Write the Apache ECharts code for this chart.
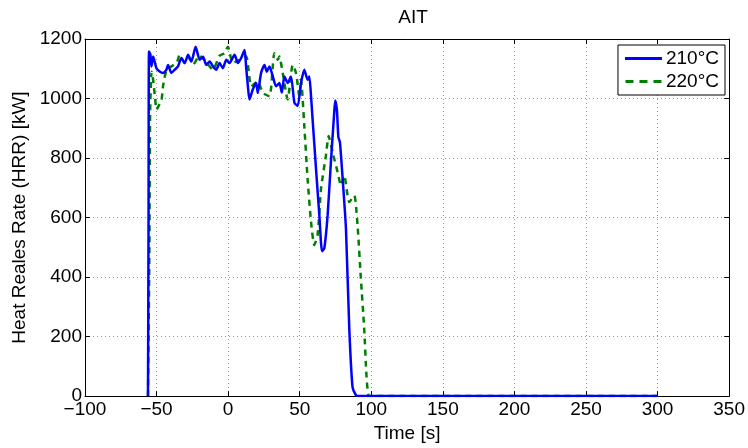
<!DOCTYPE html>
<html>
<head>
<meta charset="utf-8">
<script src="https://cdn.jsdelivr.net/npm/echarts@6/dist/echarts.min.js"></script>
<style>html,body{margin:0;padding:0;background:#fff}#c{width:748px;height:448px}</style>
</head>
<body>
<div id="c"></div>
<script>
// Time [s] and HRR [kW] values
const t210 = [-56,-55.6,-55.3,-54.3,-53.6,-52.4,-50.1,-47.8,-45.5,-43.1,-42,-39.7,-37.3,-35,-32.7,-30.3,-28,-25.7,-22.7,-19.9,-17.5,-15.3,-12.9,-10.6,-8.3,-6,-3.7,-1.3,1,4.5,6.8,9.1,11.5,12.5,13.8,14.9,17.2,19.6,20.7,23,25.4,27,28.9,31.2,33.5,35.8,37.5,39.3,41.6,43.9,46.3,48.6,50.9,53.2,55.5,56.7,57.9,59,61.4,63.7,65.6,67.2,69.5,71.8,74.1,74.8,76,77,78.1,80,82.3,84.6,86.9,89.3,91,300];
const v210 = [0,600,1158,1147,1108,1141,1102,1091,1086,1097,1113,1086,1097,1108,1136,1119,1147,1124,1174,1130,1140,1113,1124,1108,1097,1119,1102,1130,1119,1147,1119,1136,1163,1110,1041,997,1030,1052,1019,1086,1113,1090,1108,1074,1041,1052,1020,1074,1052,1074,986,975,1052,1097,1063,1074,1008,930,763,608,487,497,608,787,953,993,960,870,853,730,563,230,30,3,0,0];
const t220 = [-56,-55,-54.5,-53.5,-52.4,-51,-50,-48,-46.6,-45.5,-43,-39.6,-36,-33.8,-30.3,-26.9,-24.6,-19.9,-15,-10.6,-6,-2.5,-0.2,3.3,8,12.6,16.1,20.7,24.2,28.9,32.3,34.7,35.8,38.1,41.6,45.1,47.4,49.8,50.9,53.2,55.5,57.9,60.2,62.5,64.9,68.3,70.2,73,76.5,78.8,81.1,84.6,88.1,90.4,92.7,95,96.7,98,100,300];
const v220 = [0,500,950,1090,1063,1000,963,980,991,1041,1097,1108,1120,1147,1119,1136,1113,1144,1120,1097,1144,1152,1174,1119,1130,1141,1041,1058,1019,1008,1152,1130,1141,1086,997,1113,1086,1008,1063,908,730,586,508,541,697,808,874,819,752,708,741,652,674,574,397,230,63,3,0,0];
const seriesNames = ['210°C', '220°C'];
const xTicks = {min: -100, max: 350, interval: 50};
const yTicks = {min: 0, max: 1200, interval: 200};

const pairs = (t, v) => t.map((x, i) => [x, v[i]]);
const font = 'Liberation Sans, Arial, sans-serif';
const FS = 19;
const chart = echarts.init(document.getElementById('c'), null, {renderer: 'canvas'});
const axisCommon = () => ({
  axisLine: {show: true, onZero: false, lineStyle: {color: '#000', width: 1}},
  axisTick: {show: true, inside: true, length: 5, lineStyle: {color: '#000'}},
});
const grid = {show: true, lineStyle: {color: '#999', type: [1, 3], width: 1}};
chart.setOption({
  animation: false,
  backgroundColor: '#fff',
  title: {text: 'AIT', left: 408, top: 3, textAlign: 'center',
    textStyle: {fontFamily: font, fontSize: FS, fontWeight: 'normal', color: '#000'}},
  grid: {left: 85, right: 17, top: 39, bottom: 49, containLabel: false},
  legend: {
    orient: 'vertical', right: 23, top: 45,
    data: [
      {name: seriesNames[0], icon: 'path://M0,0L37,0L37,3L0,3Z'},
      {name: seriesNames[1], icon: 'path://M0,0L8,0L8,3L0,3ZM14,0L22,0L22,3L14,3ZM28,0L36,0L36,3L28,3Z'}
    ],
    backgroundColor: '#fff', borderColor: '#000', borderWidth: 1, borderRadius: 0,
    padding: [4, 6, 4, 7], itemGap: 4, itemWidth: 37, itemHeight: 3,
    textStyle: {fontFamily: font, fontSize: FS, color: '#000', padding: [0, 0, 0, -1]}
  },
  xAxis: [
    Object.assign({type: 'value', position: 'bottom', min: xTicks.min, max: xTicks.max, interval: xTicks.interval,
      name: 'Time [s]', nameLocation: 'middle', nameGap: 26,
      nameTextStyle: {fontFamily: font, fontSize: FS, color: '#000'},
      axisLabel: {fontFamily: font, fontSize: FS, color: '#000', margin: 4,
        formatter: v => v < 0 ? '\u2212' + Math.abs(v) : String(v)},
      splitLine: grid}, axisCommon()),
    Object.assign({type: 'value', position: 'top', min: xTicks.min, max: xTicks.max, interval: xTicks.interval,
      axisLabel: {show: false}, splitLine: {show: false}}, axisCommon())
  ],
  yAxis: [
    Object.assign({type: 'value', position: 'left', min: yTicks.min, max: yTicks.max, interval: yTicks.interval,
      name: 'Heat Reales Rate (HRR) [kW]', nameLocation: 'middle', nameGap: 55,
      nameTextStyle: {fontFamily: font, fontSize: FS, color: '#000'},
      axisLabel: {fontFamily: font, fontSize: FS, color: '#000', margin: 3, formatter: v => String(v)},
      splitLine: grid}, axisCommon()),
    Object.assign({type: 'value', position: 'right', min: yTicks.min, max: yTicks.max, interval: yTicks.interval,
      axisLabel: {show: false}, splitLine: {show: false}}, axisCommon())
  ],
  series: [
    {name: seriesNames[0], type: 'line', data: pairs(t210, v210), showSymbol: false, symbol: 'none', smooth: 0.2,
      lineStyle: {color: '#0000ff', width: 2.5}, itemStyle: {color: '#0000ff'}, z: 3},
    {name: seriesNames[1], type: 'line', data: pairs(t220, v220), showSymbol: false, symbol: 'none', smooth: 0.2,
      lineStyle: {color: '#008000', width: 2.5, type: [6, 5]}, itemStyle: {color: '#008000'}, z: 2}
  ]
});
</script>
</body>
</html>
